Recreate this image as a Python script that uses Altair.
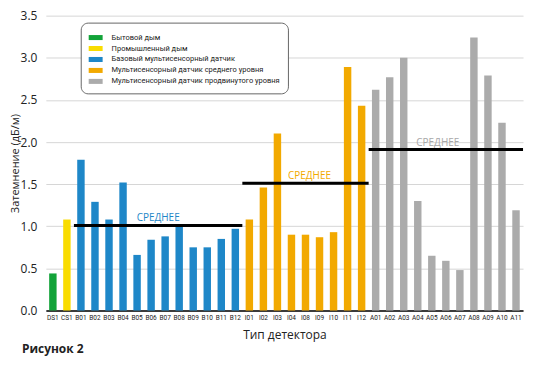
import altair as alt
import pandas as pd

categories = ["DS1", "CS1",
              "B01", "B02", "B03", "B04", "B05", "B06", "B07", "B08", "B09", "B10", "B11", "B12",
              "I01", "I02", "I03", "I04", "I08", "I09", "I10", "I11", "I12",
              "A01", "A02", "A03", "A04", "A05", "A06", "A07", "A08", "A09", "A10", "A11"]
values = [0.44, 1.08,
          1.79, 1.29, 1.08, 1.52, 0.66, 0.84, 0.88, 1.00, 0.75, 0.75, 0.85, 0.97,
          1.08, 1.46, 2.10, 0.90, 0.90, 0.87, 0.93, 2.89, 2.43,
          2.62, 2.77, 3.00, 1.30, 0.65, 0.59, 0.48, 3.24, 2.79, 2.23, 1.19]

group_names = ["Бытовой дым", "Промышленный дым", "Базовый мультисенсорный датчик",
               "Мультисенсорный датчик среднего уровня",
               "Мультисенсорный датчик продвинутого уровня"]
group_prefix = ["D", "C", "B", "I", "A"]
group_colors = ["#12a339", "#f9dc00", "#1e87c8", "#f2a900", "#ababab"]

mean_groups = group_names[2:]
mean_start = ["B01", "I01", "A01"]
mean_end = ["B12", "I12", "A11"]
mean_values = [1.01, 1.51, 1.91]
mean_text_colors = ["#1e87c8", "#f2a900", "#a8a8a8"]
mean_label = "СРЕДНЕЕ"

prefix_to_group = dict(zip(group_prefix, group_names))
df = pd.DataFrame({
    "cat": categories,
    "value": values,
    "group": [prefix_to_group[c[0]] for c in categories],
})
means = pd.DataFrame({"group": mean_groups, "start": mean_start, "end": mean_end, "mean": mean_values})

NARROW = "Roboto, Liberation Sans, sans-serif"
MAIN = "Open Sans, Noto Sans, sans-serif"

xscale = alt.Scale(domain=categories, paddingInner=0, paddingOuter=0)
yscale = alt.Scale(domain=[0, 3.5])

xaxis = alt.Axis(labelAngle=0, labelFontSize=6.5, labelFont=NARROW, labelColor="#222",
                 ticks=False, domainColor="black", domainWidth=1.5, labelPadding=4,
                 titleFont=MAIN, titleFontSize=12, titleFontWeight="normal", titleColor="#222",
                 titlePadding=9, grid=False)
yaxis = alt.Axis(values=[0, 0.5, 1, 1.5, 2, 2.5, 3, 3.5], format=".1f", grid=True,
                 gridColor="#d6d6d6", gridWidth=1, domain=False, ticks=False,
                 labelFont=MAIN, labelFontSize=12, labelColor="#222", labelPadding=9,
                 titleFont=MAIN, titleFontSize=11, titleFontWeight="normal", titleColor="#222",
                 titleX=-25)

legend = alt.Legend(orient="none", legendX=35, legendY=7, direction="vertical", title=None,
                    symbolType="M-1,-0.36L1,-0.36L1,0.36L-1,0.36Z", symbolSize=196,
                    symbolStrokeWidth=0, labelFont=NARROW, labelFontSize=7.5, labelColor="#222",
                    labelOffset=9, labelLimit=400, rowPadding=-2, padding=8, strokeColor="#666",
                    fillColor="white", cornerRadius=7)

bars = alt.Chart(df).mark_bar(width={"band": 0.53}).encode(
    x=alt.X("cat:N", scale=xscale, axis=xaxis, title="Тип детектора"),
    y=alt.Y("value:Q", scale=yscale, axis=yaxis, title="Затемнение (дБ/м)"),
    color=alt.Color("group:N", scale=alt.Scale(domain=group_names, range=group_colors),
                    legend=legend),
)

rules = alt.Chart(means).mark_rule(color="black", strokeWidth=3).encode(
    x=alt.X("start:N", scale=xscale, bandPosition=0),
    x2=alt.X2("end:N", bandPosition=1),
    y=alt.Y("mean:Q", scale=yscale),
)

text_anchor = ["B07", "I08", "A05"]
text_dx = [-7, 4, 6]
texts = []
for g, col, anc, dx in zip(mean_groups, mean_text_colors, text_anchor, text_dx):
    texts.append(
        alt.Chart(means).transform_filter(alt.datum.group == g)
        .mark_text(text=mean_label, color=col, font=MAIN, fontSize=10, dx=dx, dy=-4,
                   baseline="alphabetic", align="center")
        .encode(x=alt.datum(anc), y=alt.Y("mean:Q", scale=yscale))
    )

chart = alt.layer(bars, rules, *texts).properties(
    width=479, height=296,
    padding={"left": 38, "top": 7, "right": 8, "bottom": 50},
    autosize=alt.AutoSizeParams(type="none"),
    title=alt.TitleParams("Рисунок 2", orient="bottom", anchor="start", frame="group",
                          fontSize=12, fontWeight="bold", font=MAIN, color="#222",
                          dx=-24, offset=3),
).configure_view(stroke=None)

chart.save("out.html", embed_options={"renderer": "svg", "actions": False})
